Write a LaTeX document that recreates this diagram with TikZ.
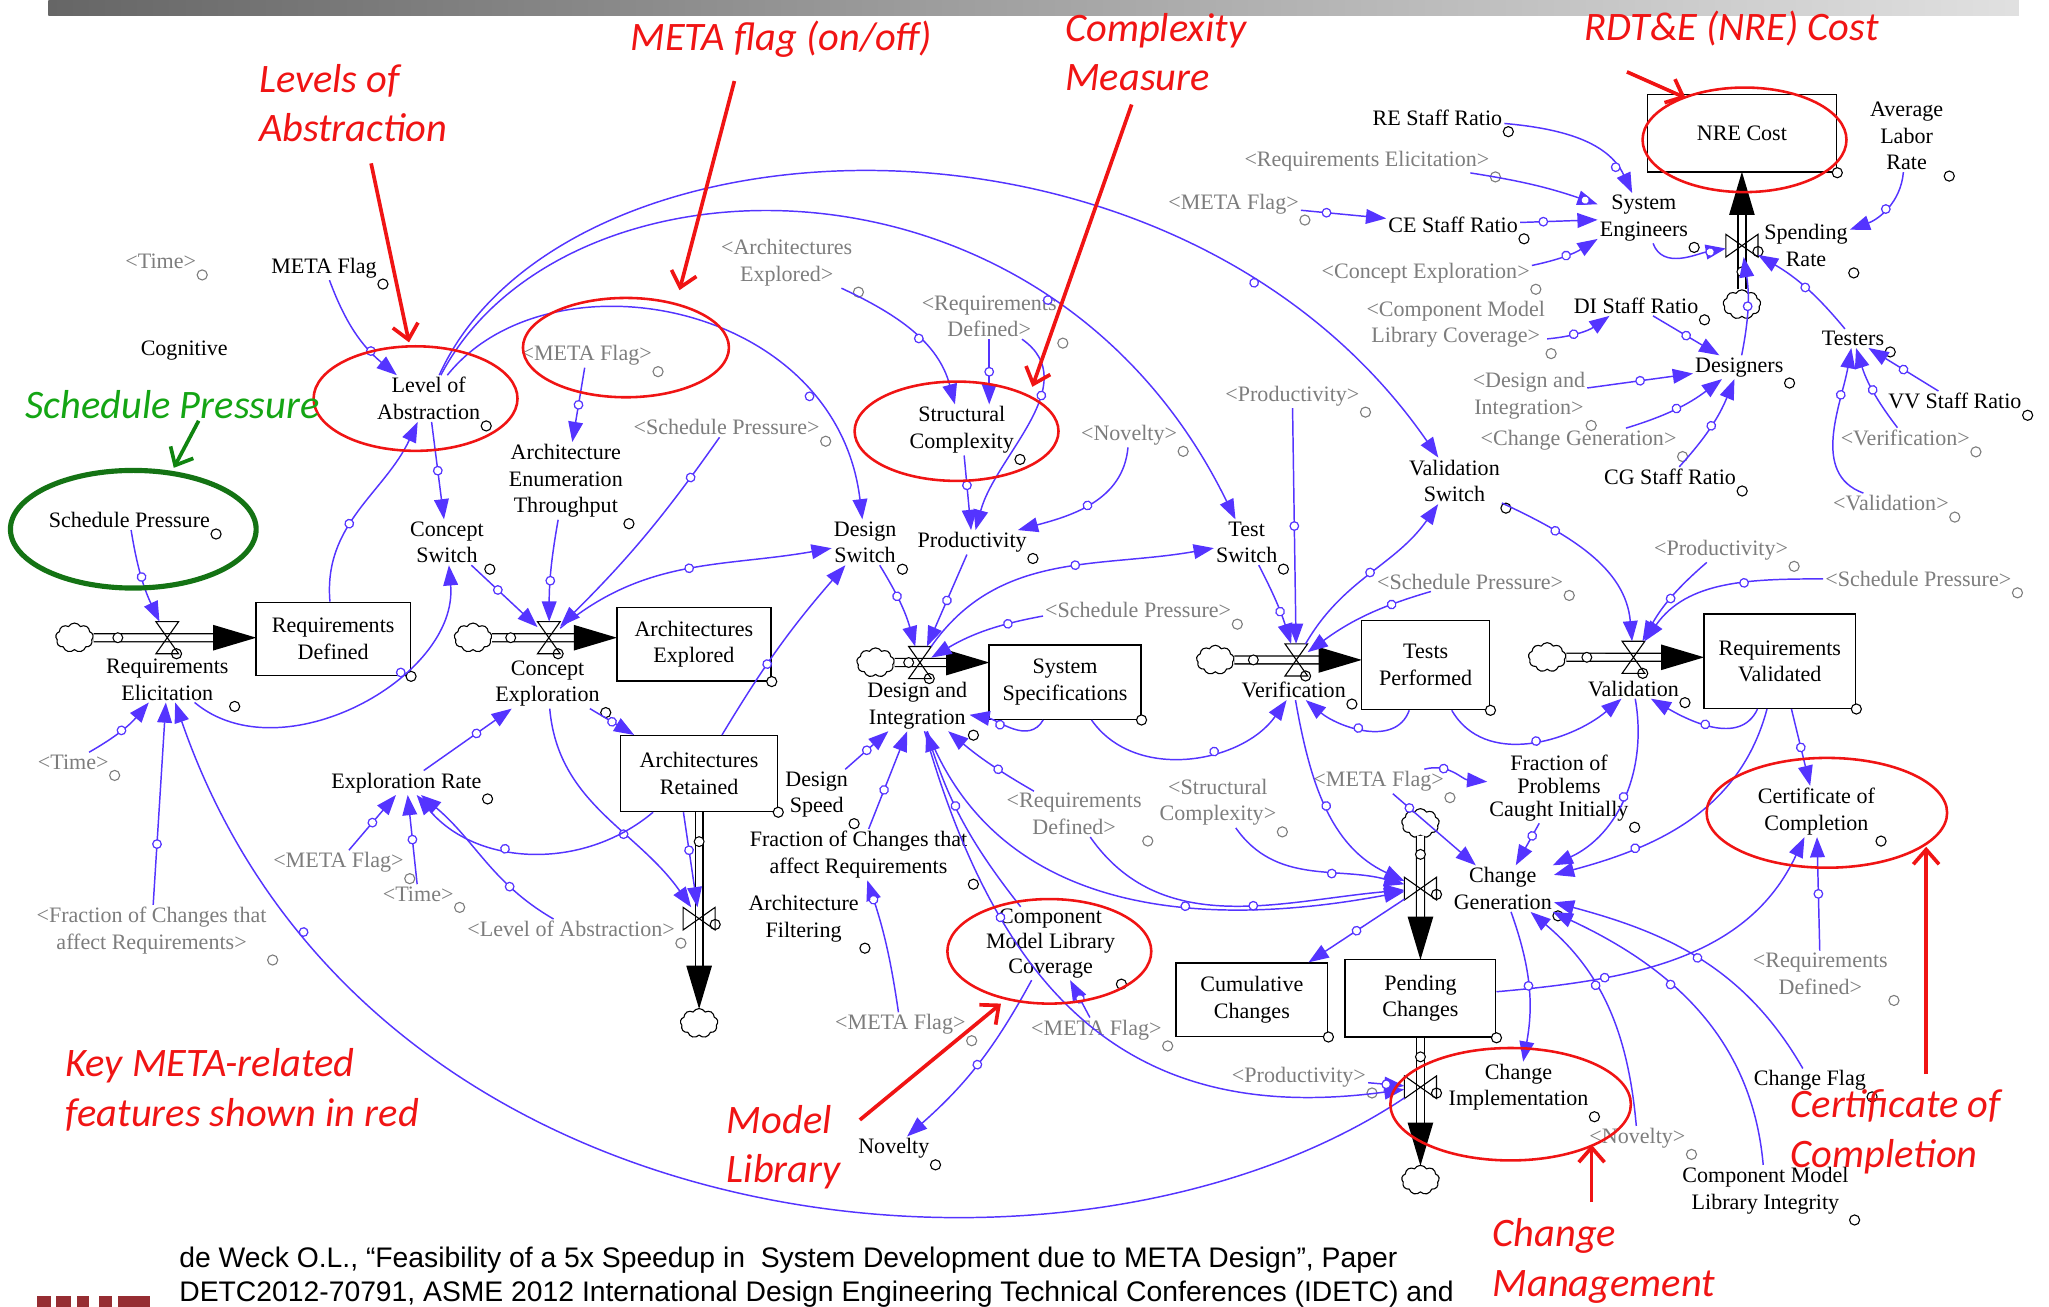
\documentclass[tikz,border=0pt]{standalone}
\usepackage{fontspec}
\setmainfont{Liberation Serif}
\newfontfamily\notefont{Carlito}
\newfontfamily\citefont{Liberation Sans}
\usetikzlibrary{arrows.meta,decorations.markings,shapes.symbols}

\definecolor{linkblue}{RGB}{84,52,255}
\definecolor{shadowgray}{RGB}{125,125,125}
\definecolor{notered}{RGB}{240,20,20}
\definecolor{notegreen}{RGB}{20,165,20}
\definecolor{ringgreen}{RGB}{20,115,20}
\definecolor{logored}{RGB}{150,45,50}

\tikzset{
  var/.style={font=\fontsize{12}{14.5}\selectfont, align=center, inner sep=1pt},
  hnd/.style={circle, draw, fill=white, inner sep=0pt, minimum size=5.5pt, line width=0.6pt},
  aux/.style={var, label={[hnd]south east:}},
  ghost/.style={var, text=shadowgray, label={[hnd, draw=shadowgray]south east:}},
  stock/.style={var, draw, line width=0.8pt, label={[hnd, anchor=center]south east:}},
  puff/.style={cloud, cloud puffs=9, cloud puff arc=120, aspect=1.3, draw, fill=white,
    minimum width=0.72cm, minimum height=0.56cm, inner sep=0pt, line width=0.6pt},
  valveh/.style={minimum width=0.42cm, minimum height=0.6cm, inner sep=0pt, label={[hnd, anchor=center]-60:}},
  valvev/.style={minimum width=0.6cm, minimum height=0.42cm, inner sep=0pt, label={[hnd, anchor=center]-20:}},
  pipe/.style={double=white, double distance=3.6pt, line width=0.7pt, shorten >=21pt,
    postaction={decorate, decoration={markings,
      mark=at position 0.15 with {\fill[black] (0,0) circle (3pt); \fill[white] (0,0) circle (2.3pt);},
      mark=at position 1 with {\fill[black] (0.5pt,0) -- (-23pt,7pt) -- (-23pt,-7pt) -- cycle;}}}},
  link/.style={linkblue, line width=0.8pt, -{Triangle[length=11pt, width=8pt]},
    postaction={decorate, decoration={markings,
      mark=at position #1 with {\fill[linkblue] (0,0) circle (2.7pt); \fill[white] (0,0) circle (1.9pt);}}}},
  link/.default=0.5,
  note/.style={font=\notefont\itshape\fontsize{22}{27}\selectfont, text=notered, align=left, inner sep=0pt},
  notearrow/.style={notered, line width=2pt, -{Straight Barb[length=8pt, width=14pt]}},
  ring/.style={notered, line width=1.4pt},
}

\begin{document}
\begin{tikzpicture}[x=0.025cm, y=-0.025cm]
\useasboundingbox (0,0) rectangle (1568,1000);
% header bar
\shade[left color=black!60, right color=black!12] (37,0) rectangle (1545,12);

% stocks
\node[stock, minimum width=2.95cm, minimum height=1.4cm] (reqdef) at (255,489) {Requirements\\Defined};
\node[stock, minimum width=2.95cm, minimum height=1.4cm] (archexp) at (531,493) {Architectures\\Explored};
\node[stock, minimum width=3.0cm, minimum height=1.45cm] (archret) at (535,592) {Architectures\\Retained};
\node[stock, minimum width=2.9cm, minimum height=1.42cm] (sysspec) at (815,522) {System\\Specifications};
\node[stock, minimum width=2.45cm, minimum height=1.7cm] (tests) at (1091,509) {Tests\\Performed};
\node[stock, minimum width=2.9cm, minimum height=1.8cm] (reqval) at (1362,506) {Requirements\\Validated};
\node[stock, minimum width=3.62cm, minimum height=1.48cm] (nre) at (1333,102) {NRE Cost};
\node[stock, minimum width=2.9cm, minimum height=1.4cm] (cumchg) at (958,765) {Cumulative\\Changes};
\node[stock, minimum width=2.88cm, minimum height=1.48cm] (pendchg) at (1087,764) {Pending\\Changes};

% clouds
\node[puff] (c1) at (57,488) {};
\node[puff] (c2) at (362,488) {};
\node[puff] (c3) at (670,507) {};
\node[puff] (c4) at (930,505) {};
\node[puff] (c5) at (1184,503) {};
\node[puff] (c6) at (535,783) {};
\node[puff] (c7) at (1087,630) {};
\node[puff] (c8) at (1087,903) {};
\node[puff] (c9) at (1333,233) {};

% valves
\node[valveh] (vre) at (128,488) {};
\node[valveh] (vce) at (420,488) {};
\node[valveh] (vdi) at (704,507) {};
\node[valveh] (vver) at (992,505) {};
\node[valveh] (vval) at (1250,503) {};
\node[valvev] (vaf) at (535,703) {};
\node[valvev] (vcg) at (1087,680) {};
\node[valvev] (vci) at (1087,832) {};
\node[valvev] (vsr) at (1333,188) {};

% flow names
\node[aux] (lre) at (128,520) {Requirements\\Elicitation};
\node[aux] (lce) at (419,523) {Concept\\Exploration};
\node[aux] (ldi) at (702,540) {Design and\\Integration};
\node[aux] (lver) at (990,528) {Verification};
\node[aux] (lval) at (1250,527) {Validation};
\node[aux] (laf) at (615,703) {Architecture\\Filtering};
\node[aux] (lcg) at (1150,680) {Change\\Generation};
\node[aux] (lci) at (1162,832) {Change\\Implementation};
\node[aux] (lsr) at (1382,188) {Spending\\Rate};

% variables
\node[ghost] (tm1) at (123,200) {<Time>};
\node[aux] (mf1) at (248,205) {META Flag};
\node[var] (cog) at (141,268) {Cognitive};
\node[aux] (loa) at (328,305) {Level of\\Abstraction};
\node[ghost] (mf2) at (449,272) {<META Flag>};
\node[aux] (aet) at (433,368) {Architecture\\Enumeration\\Throughput};
\node[ghost] (sp2) at (556,327) {<Schedule Pressure>};
\node[aux] (csw) at (342,415) {Concept\\Switch};
\node[aux] (sp) at (99,398) {Schedule Pressure};
\node[ghost] (ae2) at (602,201) {<Architectures\\Explored>};
\node[ghost] (rd2) at (757,242) {<Requirements\\Defined>};
\node[aux] (sc) at (736,329) {Structural\\Complexity};
\node[ghost] (nov2) at (864,333) {<Novelty>};
\node[aux] (dsw) at (662,415) {Design\\Switch};
\node[aux] (prod) at (744,415) {Productivity};
\node[aux] (tsw) at (954,415) {Test\\Switch};
\node[ghost] (prod2) at (989,303) {<Productivity>};
\node[ghost] (sp3) at (871,467) {<Schedule Pressure>};
\node[aux] (vsw) at (1113,368) {Validation\\Switch};
\node[ghost] (sp4) at (1125,445) {<Schedule Pressure>};
\node[ghost] (prod3) at (1317,421) {<Productivity>};
\node[ghost] (sp5) at (1468,443) {<Schedule Pressure>};
\node[aux] (resr) at (1100,90) {RE Staff Ratio};
\node[ghost] (re2) at (1046,123) {<Requirements Elicitation>};
\node[ghost] (mf3) at (944,156) {<META Flag>};
\node[aux] (cesr) at (1112,172) {CE Staff Ratio};
\node[aux] (syse) at (1258,167) {System\\Engineers};
\node[ghost] (ce2) at (1091,209) {<Concept Exploration>};
\node[ghost] (cml2) at (1114,248) {<Component Model\\Library Coverage>};
\node[aux] (disr) at (1252,234) {DI Staff Ratio};
\node[aux] (alr) at (1459,104) {Average\\Labor\\Rate};
\node[aux] (des) at (1331,281) {Designers};
\node[aux] (tst) at (1418,259) {Testers};
\node[ghost] (di2) at (1170,303) {<Design and\\Integration>};
\node[ghost] (cg2) at (1208,337) {<Change Generation>};
\node[aux] (cgsr) at (1278,365) {CG Staff Ratio};
\node[aux] (vvsr) at (1496,307) {VV Staff Ratio};
\node[ghost] (ver2) at (1458,335) {<Verification>};
\node[ghost] (val2) at (1447,385) {<Validation>};
\node[ghost] (tm2) at (56,583) {<Time>};
\node[aux] (er) at (311,599) {Exploration Rate};
\node[ghost] (mf4) at (259,660) {<META Flag>};
\node[ghost] (tm3) at (320,684) {<Time>};
\node[ghost] (loa2) at (437,711) {<Level of Abstraction>};
\node[ghost] (fca2) at (116,712) {<Fraction of Changes that\\affect Requirements>};
\node[aux] (dspd) at (625,608) {Design\\Speed};
\node[aux] (fca) at (657,654) {Fraction of Changes that\\affect Requirements};
\node[ghost] (rd3) at (822,623) {<Requirements\\Defined>};
\node[ghost] (sc2) at (932,614) {<Structural\\Complexity>};
\node[ghost] (mf5) at (1055,598) {<META Flag>};
\node[aux, font=\fontsize{12}{12.5}\selectfont] (fpc) at (1193,603) {Fraction of\\Problems\\Caught Initially};
\node[aux] (coc) at (1390,621) {Certificate of\\Completion};
\node[aux, font=\fontsize{12}{13.5}\selectfont] (cmlc) at (804,722) {Component\\Model Library\\Coverage};
\node[ghost] (mf6) at (689,784) {<META Flag>};
\node[ghost] (mf7) at (839,788) {<META Flag>};
\node[ghost] (prod4) at (994,824) {<Productivity>};
\node[aux] (nov) at (684,879) {Novelty};
\node[ghost] (nov3) at (1253,871) {<Novelty>};
\node[aux] (cflag) at (1385,827) {Change Flag};
\node[aux] (cmli) at (1351,911) {Component Model\\Library Integrity};
\node[ghost] (rd4) at (1393,745) {<Requirements\\Defined>};

% pipes
\draw[pipe] (c1) -- (c1 -| reqdef.west);
\draw[pipe] (c2) -- (c2 -| archexp.west);
\draw[pipe] (c3) -- (c3 -| sysspec.west);
\draw[pipe] (c4) -- (c4 -| tests.west);
\draw[pipe] (c5) -- (c5 -| reqval.west);
\draw[pipe] (archret.south -| c6) -- (c6);
\draw[pipe] (c7) -- (c7 |- pendchg.north);
\draw[pipe] (pendchg.south -| c8) -- (c8);
\draw[pipe] (c9) -- (c9 |- nre.south);
\foreach \v in {vre,vce,vdi,vver,vval}
  \draw[line width=0.6pt] (\v.north west) -- (\v.south east) -- (\v.south west) -- (\v.north east) -- cycle;
\foreach \v in {vaf,vcg,vci,vsr}
  \draw[line width=0.6pt] (\v.north west) -- (\v.south west) -- (\v.north east) -- (\v.south east) -- cycle;

% links: requirements and concept exploration
\draw[link] (sp) to[bend right=8] (vre);
\draw[link] (tm2) to[bend right=10] (lre);
\draw[link=0.3] (fca2) -- (lre);
\draw[link=0.82] (vci) .. controls (820,1010) and (280,960) .. (lre);
\draw[link=0.65] (lre) to[out=-40, in=-85] (csw);
\draw[link=0.4] (reqdef) to[out=95, in=-115] (loa);
\draw[link] (loa) -- (csw);
\draw[link=0.7] (mf1) to[bend right=15] (loa);
\draw[link=0.75] (loa) .. controls (420,190) and (640,230) .. (dsw);
\draw[link=0.7] (loa) .. controls (430,110) and (800,100) .. (tsw);
\draw[link=0.78] (loa) .. controls (430,80) and (900,60) .. (vsw);
\draw[link] (mf2) -- (aet);
\draw[link=0.6] (aet) to[bend right=5] (vce);
\draw[link=0.4] (csw) -- (vce);
\draw[link=0.2] (sp2) to[bend left=5] (vce);
\draw[link=0.5] (vce) to[out=40, in=190] (dsw);
\draw[link=0.6] (er) -- (lce);
\draw[link=0.5] (lce) -- (archret);
\draw[link=0.6] (lce) to[out=-85, in=125] (vaf);
\draw[link] (mf4) -- (er);
\draw[link] (tm3) -- (er);
\draw[link=0.3] (loa2) to[out=150, in=-40] (er);
\draw[link=0.6] (archret) to[out=-140, in=-50] (er);
\draw[link=0.4] ([xshift=-0.3cm]archret.south) -- (vaf);
\draw[link=0.4] (archret) to[bend left=5] (dsw);

% links: design and integration
\draw[link=0.55] (ae2) to[out=-25, in=105] (sc);
\draw[link=0.5] (rd2) -- (rd2 |- sc.north);
\draw[link=0.4] (sc) -- (prod);
\draw[link=0.5] (nov2) to[out=-95, in=15] (prod);
\draw[link=0.3] (rd2) to[out=-35, in=75] (prod);
\draw[link=0.4] (dsw) to[bend left=8] (vdi);
\draw[link=0.5] (prod) -- (vdi);
\draw[link=0.3] (sp3) to[bend right=10] (vdi);
\draw[link=0.55] (vdi) to[out=55, in=190] (tsw);
\draw[link] (dspd) -- (ldi);
\draw[link=0.4] (fca) -- (ldi);
\draw[link=0.4] (rd3) to[bend left=5] (ldi);
\draw[link=0.6] (sysspec) to[out=-120, in=-10] (ldi);
\draw[link=0.6] (ldi) .. controls (760,690) and (900,715) .. (vcg);
\draw[link=0.3] (ldi) .. controls (770,780) and (880,860) .. (vci);
\draw[link=0.6] (cmlc) to[bend left=10] (ldi);
\draw[link=0.85] (mf6) to[bend right=5] (fca);
\draw[link=0.5] (cmlc) to[bend left=10] (nov);
\draw[link=0.5] (mf7) -- (cmlc);

% links: verification and validation
\draw[link=0.6] (sysspec) to[out=-55, in=-125] (lver);
\draw[link=0.6] (tsw) to[bend left=5] (vver);
\draw[link=0.5] (prod2) -- (vver);
\draw[link=0.5] (vver) to[out=60, in=-125] (vsw);
\draw[link=0.3] (sp4) to[bend right=10] (vver);
\draw[link=0.5] (tests) to[out=-110, in=-40] (lver);
\draw[link=0.5] (tests) to[out=-60, in=-140] (lval);
\draw[link=0.3] (vsw) to[out=-25, in=95] (vval);
\draw[link=0.5] (prod3) to[bend right=10] (vval);
\draw[link=0.4] (sp5) to[out=180, in=55] (vval);
\draw[link=0.5] (reqval) to[out=-115, in=-30] (lval);
\draw[link=0.5] (reqval) -- (coc);

% links: change management
\draw[link=0.7] (reqval) to[out=-105, in=15] (lcg);
\draw[link=0.5] (lval) to[out=-80, in=25] (lcg);
\draw[link=0.5] (lver) to[out=-80, in=155] (vcg);
\draw[link=0.3] (mf5) to[out=15, in=175] (fpc);
\draw[link=0.2] (mf5) -- (lcg);
\draw[link=0.3] (fpc) -- (lcg);
\draw[link=0.6] (sc2) to[out=-55, in=165] (vcg);
\draw[link=0.55] (rd3) to[out=-55, in=185] (vcg);
\draw[link=0.5] (vcg) -- (cumchg);
\draw[link=0.3] (pendchg) to[out=5, in=-115] (coc);
\draw[link=0.5] (lcg) to[bend left=15] (lci);
\draw[link=0.5] (cflag) to[out=120, in=-15] (lcg);
\draw[link=0.6] (cmli) to[out=95, in=-25] (lcg);
\draw[link=0.6] (nov3) to[out=95, in=-40] (lcg);
\draw[link=0.5] (rd4) -- (coc);
\draw[link=0.5] (prod4) -- (vci);

% links: staffing and cost
\draw[link=0.8] (resr) to[out=-5, in=115] (syse);
\draw[link=0.9] (re2) to[bend left=5] (syse);
\draw[link=0.3] (mf3) -- (cesr);
\draw[link=0.3] (cesr) -- (syse);
\draw[link=0.5] (ce2) to[bend right=10] (syse);
\draw[link=0.8] (syse) to[out=-70, in=190] (vsr);
\draw[link=0.4] (cml2) to[bend right=15] (disr);
\draw[link=0.5] (disr) -- (des);
\draw[link=0.5] (des) to[bend right=10] (vsr);
\draw[link=0.5] (tst) to[bend right=10] (vsr);
\draw[link=0.5] (alr) to[out=-95, in=20] (lsr);
\draw[link=0.5] (di2) -- (des);
\draw[link=0.5] (cg2) to[bend right=10] (des);
\draw[link=0.5] (cgsr) to[bend right=10] (des);
\draw[link=0.5] (vvsr) -- (tst);
\draw[link=0.5] (ver2) to[bend left=10] (tst);
\draw[link=0.7] (val2) to[out=160, in=-100] (tst);

% highlight rings
\draw[ring] (318,305) ellipse [x radius=1.95cm, y radius=1.0cm];
\draw[ring] (479,266) ellipse [x radius=1.97cm, y radius=0.95cm];
\draw[ring] (732,330) ellipse [x radius=1.95cm, y radius=0.95cm];
\draw[ring] (1335,107) ellipse [x radius=1.95cm, y radius=1.0cm];
\draw[ring] (1398,622) ellipse [x radius=2.3cm, y radius=1.05cm];
\draw[ring] (803,728) ellipse [x radius=1.95cm, y radius=1.0cm];
\draw[ring] (1156,845) ellipse [x radius=2.3cm, y radius=1.075cm];
\draw[ringgreen, line width=2.8pt] (102,405) ellipse [x radius=2.35cm, y radius=1.125cm];

% annotations
\node[note, anchor=west] (nLevels) at (198,79) {Levels of\\Abstraction};
\node[note] (nMeta) at (598,30) {META flag (on/off)};
\node[note, anchor=west] (nComplex) at (815,40) {Complexity\\Measure};
\node[note] (nNre) at (1325,22) {RDT\&E (NRE) Cost};
\node[note, anchor=west] (nKey) at (50,834) {Key META-related\\features shown in red};
\node[note, anchor=west] (nModel) at (556,878) {Model\\Library};
\node[note, anchor=west] (nChange) at (1142,965) {Change\\Management};
\node[note, anchor=west] (nCert) at (1370,866) {Certificate of\\Completion};
\node[note, text=notegreen] (nSched) at (132,310) {Schedule Pressure};

\coordinate (tLevels) at (284,125);  \coordinate (hLevels) at (313,262);
\coordinate (tMeta) at (562,62);     \coordinate (hMeta) at (520,222);
\coordinate (tComplex) at (866,80);  \coordinate (hComplex) at (790,296);
\coordinate (tNre) at (1245,55);     \coordinate (hNre) at (1290,75);
\coordinate (tModel) at (658,857);   \coordinate (hModel) at (766,768);
\coordinate (tChange) at (1218,920); \coordinate (hChange) at (1218,876);
\coordinate (tCert) at (1474,822);   \coordinate (hCert) at (1474,648);
\coordinate (tSched) at (152,322);   \coordinate (hSched) at (133,358);
\draw[notearrow] (tLevels) -- (hLevels);
\draw[notearrow] (tMeta) -- (hMeta);
\draw[notearrow] (tComplex) -- (hComplex);
\draw[notearrow] (tNre) -- (hNre);
\draw[notearrow] (tModel) -- (hModel);
\draw[notearrow] (tChange) -- (hChange);
\draw[notearrow] (tCert) -- (hCert);
\draw[notearrow, notegreen!80!black] (tSched) -- (hSched);

% citation and logo
\node[font=\citefont\fontsize{15.4}{18}\selectfont, anchor=base west, inner sep=0pt] (cite1) at (137,970)
  {de Weck O.L., “Feasibility of a 5x Speedup in\ \ System Development due to META Design”, Paper};
\node[font=\citefont\fontsize{15.4}{18}\selectfont, anchor=base west, inner sep=0pt] (cite2) at (137,996)
  {DETC2012-70791, \underline{ASME 2012 International Design Engineering Technical Conferences} (IDETC) and};
\fill[logored] (28,992) rectangle (39,1000);
\fill[logored] (43,992) rectangle (54,1000);
\fill[logored] (59,992) rectangle (68,1000);
\fill[logored] (76,992) rectangle (86,1000);
\fill[logored] (90,992) rectangle (115,1000);
\end{tikzpicture}
\end{document}
